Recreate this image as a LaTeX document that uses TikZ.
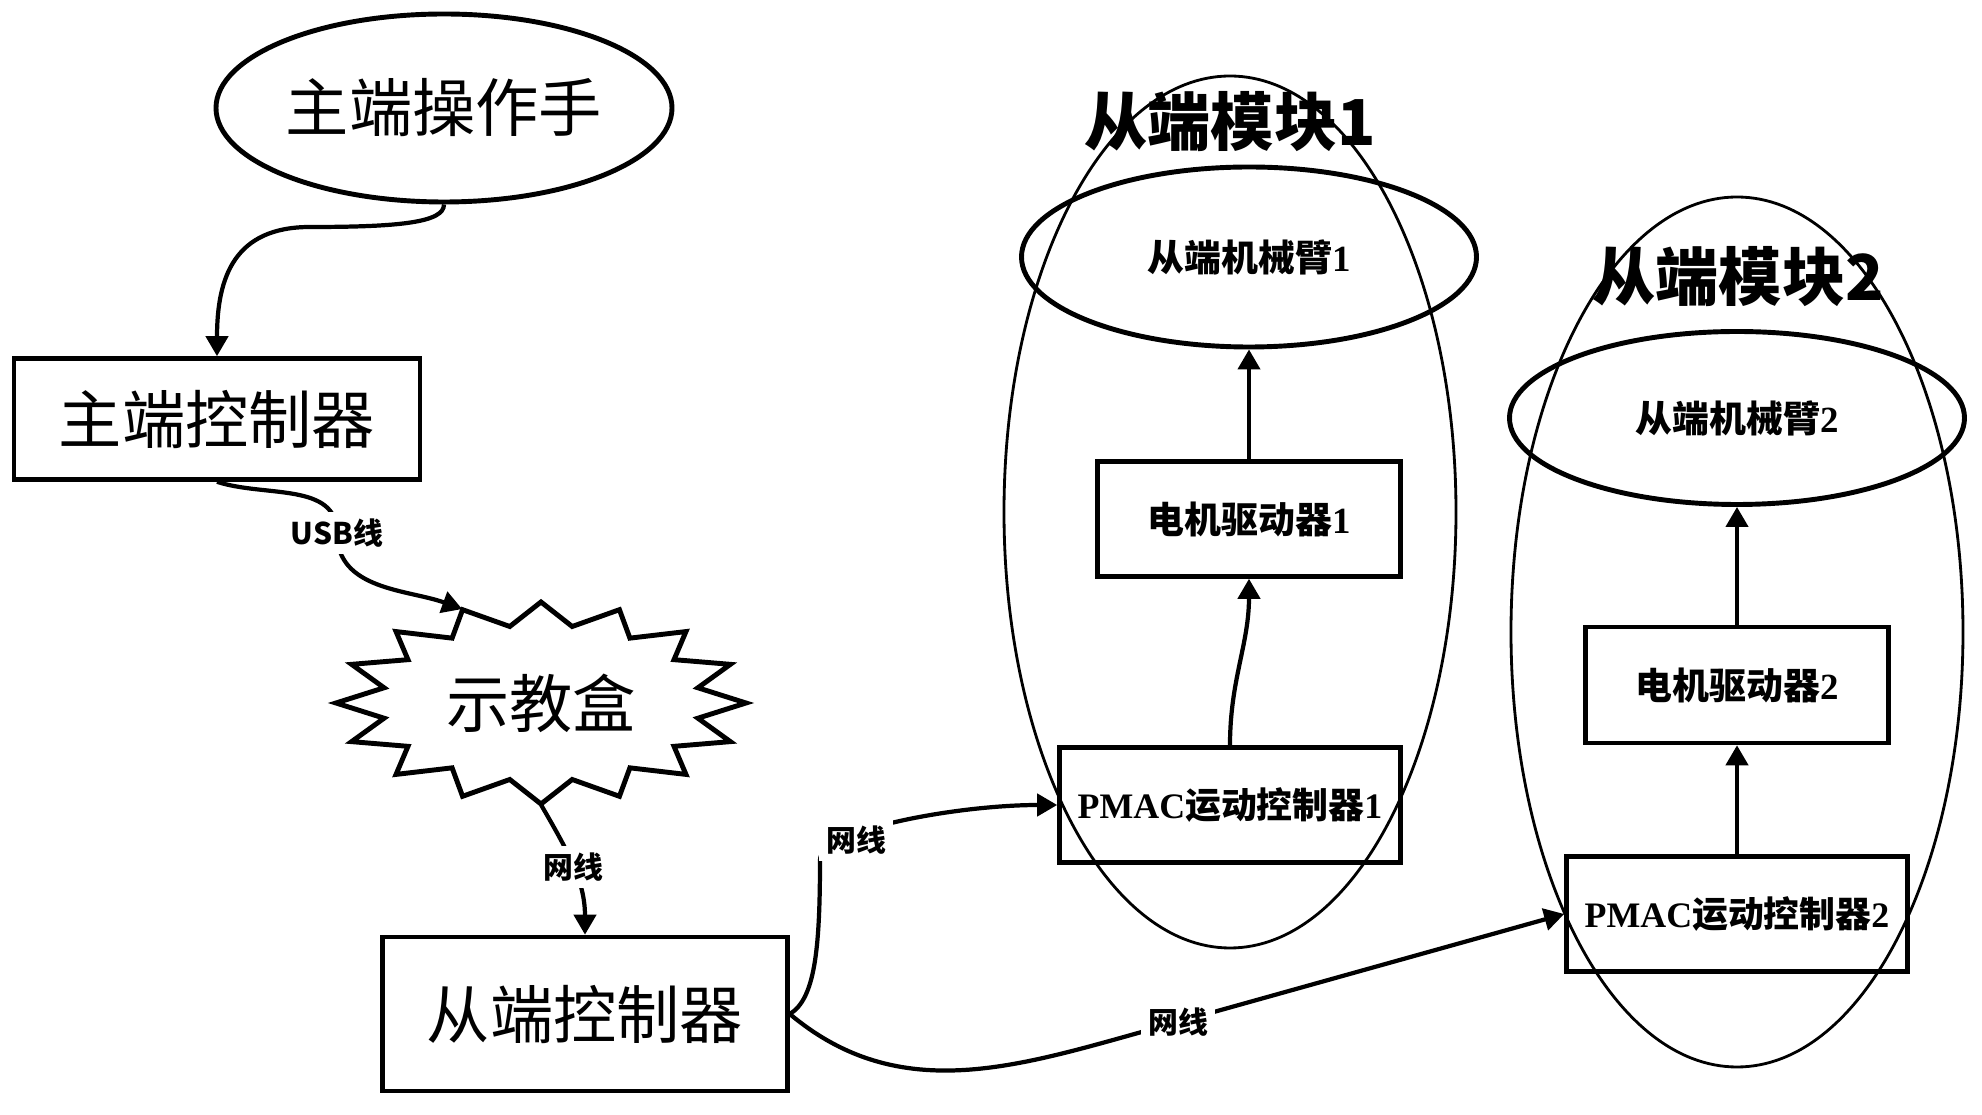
\documentclass[tikz,border=0pt]{standalone}
\usepackage{fontspec}
\setmainfont{Liberation Serif}
\newfontfamily\cjk{Noto Sans CJK SC}
\usetikzlibrary{shapes.geometric, arrows.meta}

\tikzset{
  box/.style={shape=rectangle, draw, line width=1.3pt, inner sep=0},
  oval/.style={shape=ellipse, draw, line width=1.4pt, inner sep=0},
  module/.style={shape=ellipse, draw, line width=0.8pt, inner sep=0},
  wire/.style={-{Stealth[inset=0pt, length=2mm, width=2.2mm]}, line width=1.2pt},
  wirelabel/.style={fill=white, inner sep=2pt, font=\cjk\bfseries\fontsize{8.5}{10}\selectfont},
  bigtext/.style={font=\cjk\fontsize{18}{22}\selectfont},
  titletext/.style={font=\cjk\bfseries\fontsize{18}{22}\selectfont},
  smalltext/.style={font=\bfseries\fontsize{10.5}{12}\selectfont},
  pmactext/.style={font=\bfseries\fontsize{10.2}{12}\selectfont}
}

\begin{document}
\begin{tikzpicture}
  % Paths, nodes and wires:
  \useasboundingbox (0,0) rectangle (19.82,-11.15);
  \node[module, minimum width=4.52cm, minimum height=8.72cm] (mod1) at (12.30,-5.12) {};
  \node[module, minimum width=4.52cm, minimum height=8.70cm] (mod2) at (17.37,-6.32) {};
  \node[titletext] (title1) at (12.30,-1.22) {从端模块1};
  \node[titletext] (title2) at (17.38,-2.77) {从端模块2};
  \node[oval, bigtext, minimum width=4.56cm, minimum height=1.88cm] (master) at (4.44,-1.08) {主端操作手};
  \node[box, bigtext, minimum width=4.06cm, minimum height=1.21cm] (mctrl) at (2.17,-4.19) {主端控制器};
  \node[shape=ellipse, inner sep=0, bigtext, minimum width=4.10cm, minimum height=2.02cm] (teach) at (5.41,-7.03) {示教盒};
  \node[box, bigtext, minimum width=4.05cm, minimum height=1.54cm] (sctrl) at (5.85,-10.14) {从端控制器};
  \node[oval, smalltext, minimum width=4.55cm, minimum height=1.80cm] (arm1) at (12.49,-2.57) {{\cjk 从端机械臂}1};
  \node[box, smalltext, minimum width=3.03cm, minimum height=1.15cm] (drv1) at (12.49,-5.19) {{\cjk 电机驱动器}1};
  \node[box, pmactext, minimum width=3.41cm, minimum height=1.15cm] (pmac1) at (12.30,-8.05) {PMAC{\cjk 运动控制器}1};
  \node[oval, smalltext, minimum width=4.55cm, minimum height=1.73cm] (arm2) at (17.37,-4.18) {{\cjk 从端机械臂}2};
  \node[box, smalltext, minimum width=3.03cm, minimum height=1.16cm] (drv2) at (17.37,-6.85) {{\cjk 电机驱动器}2};
  \node[box, pmactext, minimum width=3.41cm, minimum height=1.15cm] (pmac2) at (17.37,-9.14) {PMAC{\cjk 运动控制器}2};
  \draw[line width=1.4pt, shift={(teach.center)}] (90:2.05 and 1.01)
    \foreach \a in {0,...,15} { -- ({78.75-22.5*\a}:1.60 and 0.78) -- ({67.5-22.5*\a}:2.05 and 1.01) } -- cycle;
  \coordinate (bend) at (3.10,-2.27);
  \coordinate (usb) at (3.37,-5.33);
  \coordinate (net1) at (8.20,-8.60);
  \coordinate (net2) at (11.78,-10.22);
  \draw[wire] (master.south) .. controls +(0,-0.18) and +(0.9,0) .. (bend) .. controls +(-0.75,0) and +(0,0.8) .. (mctrl.north);
  \draw[wire] (mctrl.south) to[out=-18,in=90] (usb) node[wirelabel]{USB线} to[out=-90,in=160] (teach.130);
  \draw[wire] (teach.south) to[out=-60,in=90] node[wirelabel]{网线} (sctrl.north);
  \draw[wire] (sctrl.east) .. controls +(0.25,0.15) and +(0,-0.9) .. (net1) .. controls +(0,0.3) and +(-1.0,0) .. (pmac1.west);
  \node[wirelabel] (lbl1) at (8.56,-8.40) {网线};
  \draw[wire] (sctrl.east) to[out=-40,in=195] (net2) node[wirelabel]{网线} -- (pmac2.west);
  \draw[wire] (pmac1.north) to[out=90,in=-90] (drv1.south);
  \draw[wire] (drv1.north) -- (arm1.south);
  \draw[wire] (pmac2.north) -- (drv2.south);
  \draw[wire] (drv2.north) -- (arm2.south);
\end{tikzpicture}
\end{document}
